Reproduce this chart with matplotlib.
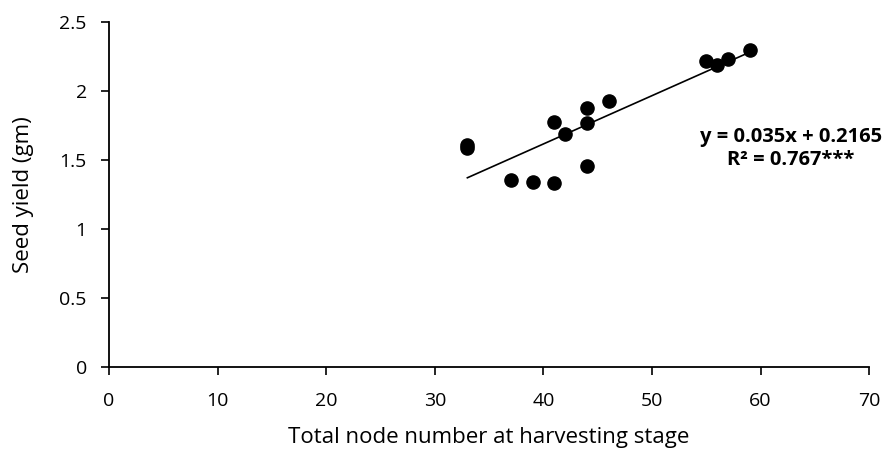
import numpy as np
import matplotlib
matplotlib.use("Agg")
import matplotlib.pyplot as plt

plt.rcParams['font.family'] = ['Open Sans', 'DejaVu Sans']

# node number vs seed yield
nodes = [33, 33, 37, 39, 41, 41, 42, 44, 44, 44, 46, 55, 56, 57, 59]
seed_yield = [1.61, 1.585, 1.355, 1.34, 1.335, 1.778, 1.688, 1.875, 1.771, 1.46, 1.928, 2.218, 2.192, 2.232, 2.295]

slope = 0.035
intercept = 0.2165
x_ticks = [0, 10, 20, 30, 40, 50, 60, 70]
y_ticks = [0, 0.5, 1, 1.5, 2, 2.5]
y_labels = ['0', '0.5', '1', '1.5', '2', '2.5']

fig = plt.figure(figsize=(8.87, 4.5), dpi=100)
ax = fig.add_axes([0.1229, 0.1844, 0.857, 0.7666])

ax.scatter(nodes, seed_yield, s=90, color='black', zorder=3)

fit_x = np.array([min(nodes), max(nodes)])
ax.plot(fit_x, slope * fit_x + intercept, color='black', lw=1.2)

ax.set_xlim(0, 70)
ax.set_ylim(0, 2.5)
ax.set_xticks(x_ticks)
ax.set_yticks(y_ticks)
ax.set_yticklabels(y_labels)
ax.tick_params(direction='out', length=6, width=1.2, labelsize=14)
ax.tick_params(axis='x', pad=12)
ax.tick_params(axis='y', pad=10)

for side in ['top', 'right']:
    ax.spines[side].set_visible(False)
for side in ['left', 'bottom']:
    ax.spines[side].set_linewidth(1.3)

ax.set_xlabel('Total node number at harvesting stage', fontsize=16, labelpad=12)
ax.set_ylabel('Seed yield (gm)', fontsize=16, labelpad=18)

ax.text(62.8, 1.58, 'y = 0.035x + 0.2165\nR² = 0.767***', ha='center', va='center',
        fontsize=14.5, fontweight='bold', linespacing=1.2)

fig.savefig('out.png', dpi=100)
